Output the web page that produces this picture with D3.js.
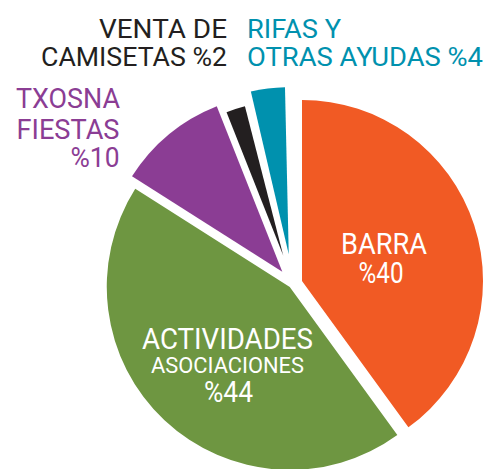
<!DOCTYPE html>
<html>
<head>
<meta charset="utf-8">
<script src="https://cdn.jsdelivr.net/npm/d3@7"></script>
<style>
  html, body { margin: 0; padding: 0; background: #ffffff; }
  svg { display: block; }
  text { font-family: Roboto, "DejaVu Sans", sans-serif; }
</style>
</head>
<body>
<svg id="chart" width="486" height="469"></svg>
<script>
// ---- data ----
const categories = ["BARRA", "ACTIVIDADES ASOCIACIONES", "TXOSNA FIESTAS", "VENTA DE CAMISETAS", "RIFAS Y OTRAS AYUDAS"];
const values = [40, 44, 10, 2, 4];
const colors = ["#F15A24", "#6E9641", "#8B3D94", "#231F20", "#0091AE"];
const labelWords = [["BARRA"], ["ACTIVIDADES", "ASOCIACIONES"], ["TXOSNA", "FIESTAS"], ["VENTA DE", "CAMISETAS"], ["RIFAS Y", "OTRAS AYUDAS"]];

// ---- layout (style) ----
const W = 486, H = 469;
const cx = 292.5, cy = 284;
const explode = [10, 4, 16, 30, 30];
const radii = [181, 183, 178, 154, 167];
const pads = [0, 0, 0, 0, 0.045];

const svg = d3.select("#chart");
const pie = d3.pie().sort(null).value(d => d);
const arcs = pie(values);

const g = svg.append("g").attr("transform", `translate(${cx},${cy})`);
arcs.forEach((a, i) => {
  const mid = (a.startAngle + a.endAngle) / 2;
  const dx = Math.sin(mid) * explode[i];
  const dy = -Math.cos(mid) * explode[i];
  const arc = d3.arc().innerRadius(0).outerRadius(radii[i])
    .padAngle(pads[i]).padRadius(radii[i]);
  g.append("path")
    .attr("transform", `translate(${dx},${dy})`)
    .attr("d", arc(a))
    .attr("fill", colors[i]);
});

// ---- labels ----
// [slice index, line text, anchor, x, baseline y, font size, fill, textLength]
const pct = i => "%" + values[i];
const labels = [
  [0, labelWords[0][0], "middle", 384, 254, 29.5, "#ffffff", 86],
  [0, pct(0), "middle", 381, 283, 29.5, "#ffffff", 45],
  [1, labelWords[1][0], "middle", 227.5, 349, 29.5, "#ffffff", 171],
  [1, labelWords[1][1], "middle", 227.5, 373, 22, "#ffffff", 153],
  [1, pct(1), "middle", 228.5, 402, 29.5, "#ffffff", 49],
  [2, labelWords[2][0], "end", 120, 108, 27.5, colors[2], 104],
  [2, labelWords[2][1], "end", 119.5, 139, 27.5, colors[2], 103],
  [2, pct(2), "end", 119.5, 167, 27.5, colors[2], 49],
  [3, labelWords[3][0], "end", 227, 38, 25.5, colors[3], 128],
  [3, labelWords[3][1] + " " + pct(3), "end", 227, 66, 25.5, colors[3], 186],
  [4, labelWords[4][0], "start", 247, 38, 25.5, colors[4], 94],
  [4, labelWords[4][1] + " " + pct(4), "start", 247, 66, 25.5, colors[4], 236]
];

svg.append("g").selectAll("text").data(labels).join("text")
  .attr("x", d => d[3])
  .attr("y", d => d[4])
  .attr("text-anchor", d => d[2])
  .attr("font-size", d => d[5])
  .attr("fill", d => d[6])
  .attr("textLength", d => d[7])
  .attr("lengthAdjust", "spacingAndGlyphs")
  .text(d => d[1]);
</script>
</body>
</html>
